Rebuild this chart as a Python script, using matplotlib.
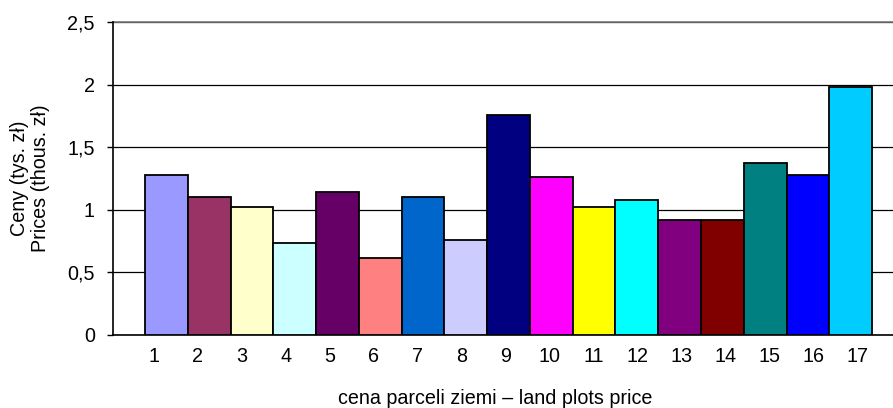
import matplotlib
matplotlib.use("Agg")
import matplotlib.pyplot as plt
import numpy as np

categories = [str(i) for i in range(1, 18)]
prices = [1.28, 1.10, 1.02, 0.73, 1.14, 0.61, 1.10, 0.76, 1.76,
          1.26, 1.02, 1.08, 0.92, 0.92, 1.37, 1.28, 1.98]
colors = ["#9999FF", "#993366", "#FFFFCC", "#CCFFFF", "#660066", "#FF8080",
          "#0066CC", "#CCCCFF", "#000080", "#FF00FF", "#FFFF00", "#00FFFF",
          "#800080", "#800000", "#008080", "#0000FF", "#00CCFF"]
yticks = [0, 0.5, 1, 1.5, 2, 2.5]
ytick_labels = ["0", "0,5", "1", "1,5", "2", "2,5"]
ylabel = "Ceny (tys. zł)\nPrices (thous. zł)"
xlabel = "cena parceli ziemi – land plots price"

plt.rcParams['font.family'] = ['Liberation Sans', 'DejaVu Sans']
FS = 14.2

W, H = 893, 408
fig = plt.figure(figsize=(W / 100, H / 100), dpi=100)
ax = fig.add_axes([113 / W, 1 - 334.7 / H, (893 - 113) / W, (334.7 - 22) / H])

x = np.arange(len(prices))
ax.bar(x, prices, width=1.0, color=colors, edgecolor="black", linewidth=1.3, zorder=3)

ax.set_xlim(-1.25, 16.99)
ax.set_ylim(0, 2.5)
ax.set_yticks(yticks)
ax.set_yticklabels(ytick_labels, fontsize=FS)
ax.tick_params(axis='y', direction='out', length=4, width=1, pad=9, colors='black')

# category labels (spaced slightly wider than the bars, as in the reference)
label_pos = -0.30 + x * 1.029
ax.set_xticks(label_pos)
ax.set_xticklabels(categories, fontsize=FS)
ax.tick_params(axis='x', length=0, pad=9)

ax.yaxis.grid(True, color="black", linewidth=0.9, zorder=0)
ax.set_axisbelow(True)
for s in ["top", "right"]:
    ax.spines[s].set_visible(False)
ax.spines["left"].set_linewidth(1.2)
ax.spines["bottom"].set_linewidth(1.2)
ax.axhline(2.5, color="#777777", linewidth=1.2, zorder=1, clip_on=False)

fig.text(30 / W, 1 - 178.5 / H, ylabel, rotation=90, ha="center", va="center",
         fontsize=FS, multialignment="center", linespacing=1.15)
fig.text(0.5 * (338 + 653) / W, 1 - 398 / H, xlabel, ha="center", va="center", fontsize=FS)

fig.savefig("out.png", dpi=100, facecolor="white")
